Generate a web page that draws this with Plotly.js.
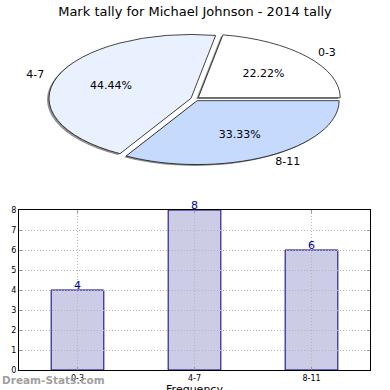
<!DOCTYPE html>
<html>
<head>
<meta charset="utf-8">
<script src="https://cdn.plot.ly/plotly-3.0.1.min.js"></script>
<style>html,body{margin:0;padding:0;background:#fff;} #chart{width:390px;height:390px;}</style>
</head>
<body>
<div id="chart"></div>
<script>
// ---- data ----
const categories = ['0-3', '4-7', '8-11'];
const counts = [4, 8, 6];
const chartTitle = 'Mark tally for Michael Johnson - 2014 tally';
const xTitle = 'Frequency';
const yTitle = 'Stat Intervals';
const watermark = 'Dream-Stats.com';

// ---- styles ----
const pieColors = ['#ffffff', '#eaf1fe', '#c6dafd'];
const shadowColors = ['#909090', '#909090', '#909090'];
const FONT = 'DejaVu Sans, Liberation Sans, sans-serif';
const PULL = 0.03;
const PCT_DIST = 0.6;    // percent label distance (fraction of radius)
const LABEL_DIST = 1.1;  // category label distance (fraction of radius)
const K = 0.45;          // vertical squash of the pie (ellipse)
const CY_TARGET = 99;    // ellipse centre (px)
const CY_PIE = 195;      // circle centre before squash (px)

const total = counts.reduce(function (a, b) { return a + b; }, 0);
// first slice starts at 3 o'clock and runs counter-clockwise
const startRotation = 90 - 360 * counts[0] / total;

const pieBase = {
  type: 'pie', labels: categories, values: counts, sort: false,
  direction: 'counterclockwise', rotation: startRotation, pull: PULL,
  hoverinfo: 'skip', showlegend: false
};

const traces = [
  Object.assign({}, pieBase, {
    domain: {x: [0.125 - 2/390, 0.875 - 2/390], y: [0, 1 - 6/390]},
    marker: {colors: shadowColors, line: {width: 0}},
    textinfo: 'none', name: 'shadow'
  }),
  Object.assign({}, pieBase, {
    domain: {x: [0.125, 0.875], y: [0, 1]},
    marker: {colors: pieColors, line: {color: '#000000', width: 1}},
    textposition: 'inside', insidetextorientation: 'horizontal',
    texttemplate: '%{percent:.2%}', name: 'pct',
    insidetextfont: {family: FONT, size: 11, color: '#000000'}
  }),
  Object.assign({}, pieBase, {
    domain: {x: [0.125, 0.875], y: [0, 1]},
    marker: {colors: ['rgba(0,0,0,0)','rgba(0,0,0,0)','rgba(0,0,0,0)'], line: {width: 0}},
    textposition: 'outside', textinfo: 'label', name: 'lbl',
    outsidetextfont: {family: FONT, size: 11, color: '#000000'}
  }),
  {
    type: 'bar', x: categories, y: counts, width: 0.45,
    marker: {color: '#ccccE6', line: {color: '#000080', width: 1}},
    hoverinfo: 'skip', showlegend: false
  }
];

const barLabels = categories.map(function (c, i) {
  return {
    x: c, y: counts[i], xref: 'x', yref: 'y', text: String(counts[i]),
    showarrow: false, yanchor: 'bottom', yshift: -4,
    font: {family: FONT, size: 11, color: '#000099'}
  };
});

const GRID = {showgrid: true, gridcolor: '#b4b4b4', griddash: '1px,2px', gridwidth: 1};

const layout = {
  width: 390, height: 390,
  margin: {l: 0, r: 0, t: 0, b: 0},
  paper_bgcolor: '#ffffff', plot_bgcolor: '#ffffff',
  font: {family: FONT, size: 9, color: '#000000'},
  title: {text: chartTitle, font: {family: FONT, size: 13, color: '#000000'},
          x: 0.5, xanchor: 'center', y: 1 - 11/390, yanchor: 'middle', yref: 'container'},
  xaxis: Object.assign({
    domain: [19/390, 370/390], type: 'category', range: [-0.5, 2.5],
    showline: true, linecolor: '#000000', linewidth: 1, mirror: 'ticks',
    ticks: 'inside', ticklen: 3, tickcolor: '#999999',
    tickfont: {family: FONT, size: 8, color: '#000000'},
    title: {text: xTitle, font: {family: FONT, size: 11}},
    automargin: false, fixedrange: true, zeroline: false
  }, GRID),
  yaxis: Object.assign({
    domain: [20/390, 180/390], range: [0, 8], dtick: 1,
    showline: true, linecolor: '#000000', linewidth: 1, mirror: 'ticks',
    ticks: 'inside', ticklen: 3, tickcolor: '#999999',
    tickfont: {family: FONT, size: 8, color: '#000000'},
    title: {text: yTitle, font: {family: FONT, size: 11}},
    automargin: false, fixedrange: true, zeroline: false
  }, GRID),
  annotations: barLabels.concat([{
    text: '<b>' + watermark + '</b>', xref: 'paper', yref: 'paper',
    x: 0, xanchor: 'left', y: 10/390, yanchor: 'middle', showarrow: false,
    font: {family: FONT, size: 10.5, color: '#a0a0a0'}
  }])
};

Plotly.newPlot('chart', traces, layout, {displayModeBar: false, staticPlot: true}).then(function (gd) {
  const pl = gd.querySelector('.pielayer');
  if (pl) {
    pl.setAttribute('transform', 'translate(0,' + CY_TARGET + ') scale(1,' + K + ') translate(0,' + (-CY_PIE) + ')');
    pl.querySelectorAll('g.trace').forEach(function (gt) {
      const cd = gt.__data__;
      if (!cd || !cd[0]) return;
      const cd0 = cd[0], tr = cd0.trace;
      gt.querySelectorAll('g.slice').forEach(function (gs) {
        const pt = gs.__data__;
        const st = gs.querySelector('g.slicetext');
        if (!st || !pt || !pt.pxmid) return;
        const bb = st.getBBox();
        if (!bb.width) return;
        const curY = bb.y + bb.height / 2;
        let dist, curX;
        if (tr.name === 'lbl') {
          dist = PULL + LABEL_DIST;
          curX = pt.pxmid[0] >= 0 ? bb.x : bb.x + bb.width;
        } else {
          dist = PULL + PCT_DIST;
          curX = bb.x + bb.width / 2;
        }
        const tx = cd0.cx + dist * pt.pxmid[0];
        const ty = cd0.cy + dist * pt.pxmid[1];
        st.setAttribute('transform', 'translate(' + tx + ',' + ty + ') scale(1,' + (1 / K) + ') translate(' + (-curX) + ',' + (-curY) + ')');
      });
      gt.querySelectorAll('path.textline').forEach(function (p) { p.style.display = 'none'; });
    });
  }
  // grid drawn above the bars, as in the reference
  const grid = gd.querySelector('.subplot.xy > .gridlayer');
  const over = gd.querySelector('.subplot.xy > .overplot');
  if (grid && over) over.parentNode.insertBefore(grid, over.nextSibling);
  const xt = gd.querySelector('.g-xtitle text');
  if (xt) xt.setAttribute('transform', 'translate(0,6)');
  const yt = gd.querySelector('.g-ytitle');
  if (yt) yt.setAttribute('transform', 'translate(-2,0)');
});
</script>
</body>
</html>
